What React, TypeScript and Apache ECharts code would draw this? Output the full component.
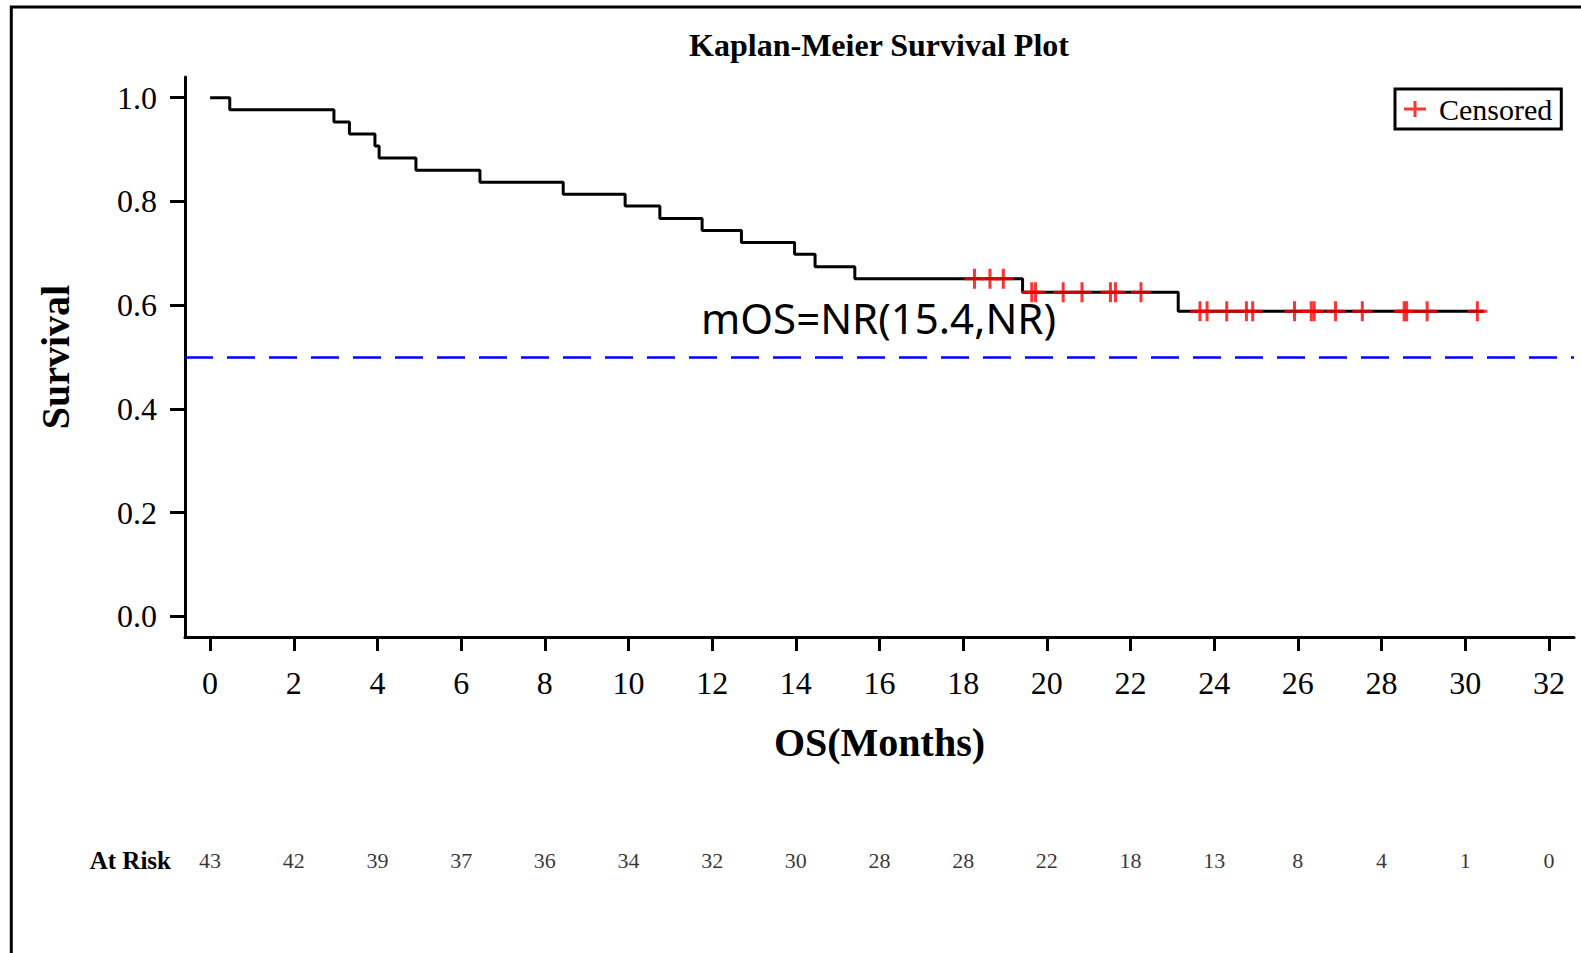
import React, { useEffect, useRef } from "react";
import * as echarts from "echarts";

// ---- data ----
const eventTimes = [0, 0.47, 2.96, 3.33, 3.94, 4.04, 4.92, 6.45, 8.44, 9.92, 10.75, 11.76, 12.7, 13.97, 14.46, 15.41, 19.42, 23.14];
const survival = [1.0, 0.977, 0.953, 0.93, 0.907, 0.884, 0.86, 0.837, 0.814, 0.791, 0.767, 0.744, 0.721, 0.698, 0.674, 0.651, 0.625, 0.588];
const lastFollowUp = 30.45;
const censorTimes = [18.27, 18.64, 18.96, 19.64, 19.73, 20.39, 20.84, 21.52, 21.64, 22.25, 23.66, 23.83, 24.3, 24.77, 24.92, 25.92, 26.32, 26.39, 26.9, 27.54, 28.54, 28.6, 29.09, 30.29];
const xTicks = [0, 2, 4, 6, 8, 10, 12, 14, 16, 18, 20, 22, 24, 26, 28, 30, 32];
const yTicks = [0, 0.2, 0.4, 0.6, 0.8, 1.0];
const atRiskTimes = [0, 2, 4, 6, 8, 10, 12, 14, 16, 18, 20, 22, 24, 26, 28, 30, 32];
const atRisk = [43, 42, 39, 37, 36, 34, 32, 30, 28, 28, 22, 18, 13, 8, 4, 1, 0];
const medianLine = 0.5;
const titleText = "Kaplan-Meier Survival Plot";
const mosText = "mOS=NR(15.4,NR)";

const SERIF = "'Liberation Serif', 'Times New Roman', serif";
const PLUS_MARK = "path://M0,8.5H20V11.5H0Z M8.5,0H11.5V20H8.5Z";
const PLUS_LEGEND = "path://M0,6.5H22V9.5H0Z M9.5,0H12.5V16H9.5Z";

function survivalAt(t: number): number {
  let s = survival[0];
  for (let i = 0; i < eventTimes.length; i++) {
    if (eventTimes[i] <= t) s = survival[i];
  }
  return s;
}

export default function App() {
  const ref = useRef<HTMLDivElement>(null);
  useEffect(() => {
    if (!ref.current) return;
    const chart = echarts.init(ref.current, null, { renderer: "svg" });
    const kmData = eventTimes.map((t, i) => [t, survival[i]]);
    kmData.push([lastFollowUp, survival[survival.length - 1]]);
    const censorData = censorTimes.map((t) => [t, survivalAt(t)]);
    const riskData = atRiskTimes.map((t) => [t, 0]);

    chart.setOption({
      animation: false,
      backgroundColor: "#ffffff",
      graphic: [
        {
          type: "rect",
          shape: { x: 11.3, y: 7, width: 1650, height: 1050 },
          style: { fill: "none", stroke: "#000", lineWidth: 3 },
          silent: true,
        },
        {
          type: "text",
          x: 879,
          y: 45,
          style: {
            text: titleText,
            font: `bold 32px ${SERIF}`,
            fill: "#000",
            align: "center",
            verticalAlign: "middle",
          },
        },
        {
          type: "text",
          x: 701,
          y: 317,
          style: {
            text: mosText,
            font: "42px 'Noto Sans', 'Open Sans', sans-serif",
            fill: "#000",
            align: "left",
            verticalAlign: "middle",
          },
        },
      ],
      legend: {
        data: [{ name: "Censored", icon: PLUS_LEGEND }],
        left: 1395,
        top: 89,
        orient: "horizontal",
        itemWidth: 22,
        itemHeight: 16,
        padding: [5, 9, 5, 9],
        borderColor: "#000",
        borderWidth: 3,
        borderRadius: 0,
        backgroundColor: "#fff",
        textStyle: { fontSize: 30, fontFamily: SERIF, color: "#000", padding: [0, 0, 0, 8] },
      },
      grid: [
        { left: 185, top: 77, width: 1389, height: 560, containLabel: false },
        { left: 185, top: 850, width: 1389, height: 20, containLabel: false },
      ],
      xAxis: [
        {
          type: "value",
          gridIndex: 0,
          min: -0.6,
          max: 32.6,
          splitLine: { show: false },
          axisLine: { show: true, onZero: false, lineStyle: { color: "#000", width: 3 } },
          axisTick: { show: true, length: 14, lineStyle: { color: "#000", width: 3 }, customValues: xTicks },
          axisLabel: { customValues: xTicks, margin: 30, fontSize: 32, fontFamily: SERIF, color: "#000" },
          name: "OS(Months)",
          nameLocation: "middle",
          nameGap: 85,
          nameTextStyle: { fontSize: 40, fontWeight: "bold", fontFamily: SERIF, color: "#000" },
        },
        {
          type: "value",
          gridIndex: 1,
          min: -0.6,
          max: 32.6,
          show: false,
        },
      ],
      yAxis: [
        {
          type: "value",
          gridIndex: 0,
          min: -0.04,
          max: 1.04,
          splitLine: { show: false },
          axisLine: { show: true, onZero: false, lineStyle: { color: "#000", width: 3 } },
          axisTick: { show: true, length: 15, lineStyle: { color: "#000", width: 3 }, customValues: yTicks },
          axisLabel: {
            customValues: yTicks,
            margin: 28,
            fontSize: 32,
            fontFamily: SERIF,
            color: "#000",
            formatter: (v: number) => v.toFixed(1),
          },
          name: "Survival",
          nameLocation: "middle",
          nameRotate: 90,
          nameGap: 110,
          nameTextStyle: { fontSize: 40, fontWeight: "bold", fontFamily: SERIF, color: "#000" },
        },
        {
          type: "category",
          gridIndex: 1,
          data: ["At Risk"],
          axisLine: { show: false },
          axisTick: { show: false },
          splitLine: { show: false },
          axisLabel: { margin: 14, fontSize: 25, fontWeight: "bold", fontFamily: SERIF, color: "#000" },
        },
      ],
      series: [
        {
          name: "Survival",
          type: "line",
          xAxisIndex: 0,
          yAxisIndex: 0,
          step: "end",
          data: kmData,
          symbol: "none",
          lineStyle: { color: "#000", width: 3 },
          z: 2,
          markLine: {
            silent: true,
            symbol: ["none", "none"],
            label: { show: false },
            lineStyle: { color: "#0000FF", width: 2.5, type: [28, 14] },
            data: [{ yAxis: medianLine }],
          },
        },
        {
          name: "Censored",
          type: "scatter",
          xAxisIndex: 0,
          yAxisIndex: 0,
          data: censorData,
          symbol: PLUS_MARK,
          symbolSize: [20, 20],
          itemStyle: { color: "#FF0000" },
          z: 3,
        },
        {
          name: "At Risk",
          type: "scatter",
          xAxisIndex: 1,
          yAxisIndex: 1,
          data: riskData,
          symbolSize: 1,
          itemStyle: { color: "rgba(0,0,0,0)" },
          label: {
            show: true,
            position: "inside",
            formatter: (p: any) => String(atRisk[p.dataIndex]),
            fontSize: 22,
            fontFamily: SERIF,
            color: "#000",
            textBorderWidth: 0,
            textBorderColor: "transparent",
          },
        },
      ],
    });
    return () => chart.dispose();
  }, []);

  return (
    <div
      ref={ref}
      style={{ position: "fixed", left: 0, top: 0, width: 1581, height: 953, background: "#fff" }}
    />
  );
}
